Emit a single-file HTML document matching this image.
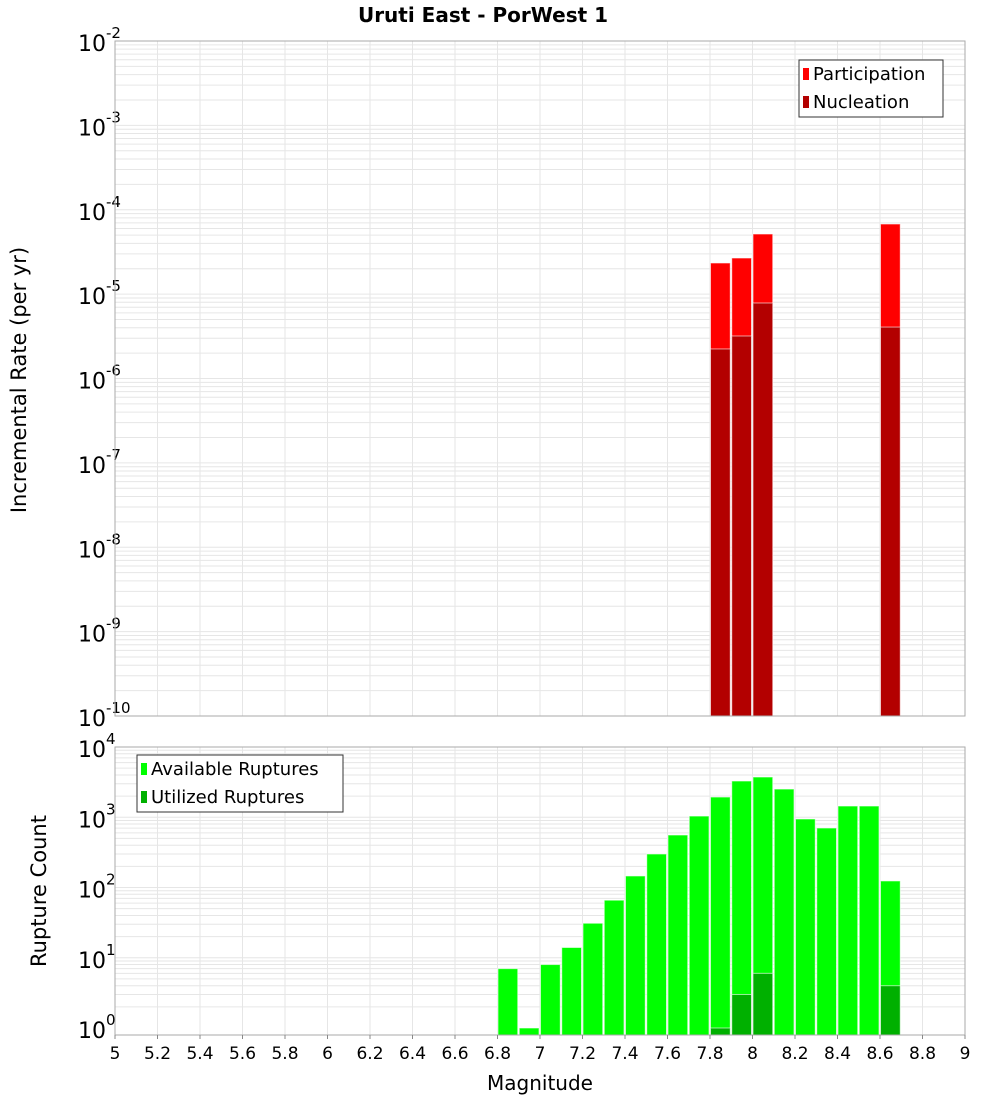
<!DOCTYPE html>
<html><head><meta charset="utf-8"><style>
body{margin:0;background:#fff;}
svg{display:block;font-family:"DejaVu Sans","Liberation Sans",sans-serif;}
</style></head><body>
<svg id="chart" width="1000" height="1100" viewBox="0 0 1000 1100">
<text x="483" y="22" text-anchor="middle" font-size="20" font-weight="bold">Uruti East - PorWest 1</text>
<g id="top"></g>
<g id="bot"></g>
<text transform="translate(26,380) rotate(-90)" text-anchor="middle" font-size="21">Incremental Rate (per yr)</text>
<text transform="translate(46,891) rotate(-90)" text-anchor="middle" font-size="21">Rupture Count</text>
<text x="540" y="1090" text-anchor="middle" font-size="20">Magnitude</text>
</svg>
<script>
const rateMags = [7.85, 7.95, 8.05, 8.65];
const participation = [2.34e-5, 2.68e-5, 5.16e-5, 6.78e-5];
const nucleation = [2.24e-6, 3.19e-6, 7.85e-6, 4.07e-6];
const countMags = [6.85,6.95,7.05,7.15,7.25,7.35,7.45,7.55,7.65,7.75,7.85,7.95,8.05,8.15,8.25,8.35,8.45,8.55,8.65];
const available = [7,1,8,14,31,66,146,300,559,1040,1940,3280,3740,2520,945,703,1445,1445,124];
const utilizedMags = [7.85, 7.95, 8.05, 8.65];
const utilized = [1, 3, 6, 4];
const xTicks = ["5","5.2","5.4","5.6","5.8","6","6.2","6.4","6.6","6.8","7","7.2","7.4","7.6","7.8","8","8.2","8.4","8.6","8.8","9"];
const rateExps = [-10,-9,-8,-7,-6,-5,-4,-3,-2];
const countExps = [0,1,2,3,4];

const NS = "http://www.w3.org/2000/svg";
const X0 = 115, X1 = 965, BIN = 0.1;
function xs(m){ return X0 + (m - 5) / 4 * (X1 - X0); }
function mk(parent, tag, attrs){ const e = document.createElementNS(NS, tag); for (const k in attrs) e.setAttribute(k, attrs[k]); parent.appendChild(e); return e; }

function drawPanel(g, top, bottom, yLog, minE, maxE, exps, labelY){
  mk(g, "rect", {x:X0, y:top, width:X1-X0, height:bottom-top, fill:"#fff"});
  for (let e = Math.floor(minE); e <= maxE; e++){
    for (let k = 1; k <= 9; k++){
      const v = Math.log10(k) + e;
      if (v < minE || v > maxE) continue;
      const y = yLog(v);
      const l = mk(g, "line", {x1:X0, x2:X1, y1:y, y2:y, stroke:"#e6e6e6", "stroke-width":1});
      
      
    }
  }
  xTicks.forEach(t => {
    const x = xs(parseFloat(t));
    const l = mk(g, "line", {x1:x, x2:x, y1:top, y2:bottom, stroke:"#e6e6e6", "stroke-width":1});
    
    
  });
  exps.forEach(e => {
    const y = yLog(e);
    const t = mk(g, "text", {x:106, y:y + labelY, "text-anchor":"end", "font-size":22});
    
    
    t.textContent = "10";
    const s = mk(g, "text", {x:106, y:y + labelY - 13, "font-size":15});
    
    
    s.textContent = String(e);
  });
}

function bar(g, m, v, yLog, bottom, fill, name){
  const x = xs(m - BIN/2) + 0.5, w = xs(m + BIN/2) - xs(m - BIN/2) - 1.5;
  const y = yLog(Math.log10(v));
  const r = mk(g, "rect", {x:x, y:y, width:w, height:bottom - y, fill:fill, stroke:"#fff", "stroke-opacity":0.6, "stroke-width":1});
  
  
}

const T0 = 41, T1 = 716;
const gt = document.getElementById("top");
const yT = v => T0 + (-2 - v) / 8 * (T1 - T0);
drawPanel(gt, T0, T1, yT, -10, -2, rateExps, 10);
rateMags.forEach((m,i) => bar(gt, m, participation[i], yT, T1, "#ff0000", "participation-bar"));
rateMags.forEach((m,i) => bar(gt, m, nucleation[i], yT, T1, "#b30000", "nucleation-bar"));
mk(gt, "rect", {x:X0, y:T0, width:X1-X0, height:T1-T0, fill:"none", stroke:"#aaa"});

const B0 = 747, B1 = 1035, PPD = 70.25;
const gb = document.getElementById("bot");
const yB = v => 1028 - v * PPD;
drawPanel(gb, B0, B1, yB, (1028 - B1) / PPD * -1 - 0.0001, 4, countExps, 10);
countMags.forEach((m,i) => bar(gb, m, available[i], yB, B1, "#00ff00", "available-bar"));
utilizedMags.forEach((m,i) => bar(gb, m, utilized[i], yB, B1, "#00b000", "utilized-bar"));
mk(gb, "rect", {x:X0, y:B0, width:X1-X0, height:B1-B0, fill:"none", stroke:"#aaa"});

const svg = document.getElementById("chart");
xTicks.forEach(t => {
  const x = xs(parseFloat(t));
  mk(svg, "line", {x1:x, x2:x, y1:B1, y2:B1+4, stroke:"#888"});
  const tx = mk(svg, "text", {x:x, y:1059, "text-anchor":"middle", "font-size":17});
  
  
  tx.textContent = t;
});

function legend(x, y, w, items){
  const g = mk(svg, "g", {});
  
  
  mk(g, "rect", {x:x, y:y, width:w, height:57, fill:"#fff", stroke:"#333"});
  items.forEach((it, i) => {
    const ey = y + 14 + i * 28;
    const e = mk(g, "g", {});
    
    
    mk(e, "rect", {x:x+4, y:ey-6, width:6, height:12, fill:it[1]});
    const t = mk(e, "text", {x:x+14, y:ey+6, "font-size":18});
    t.textContent = it[0];
  });
}
legend(799, 60, 144, [["Participation","#ff0000"],["Nucleation","#b30000"]]);
legend(137, 755, 206, [["Available Ruptures","#00ff00"],["Utilized Ruptures","#00b000"]]);
</script>
</body></html>
